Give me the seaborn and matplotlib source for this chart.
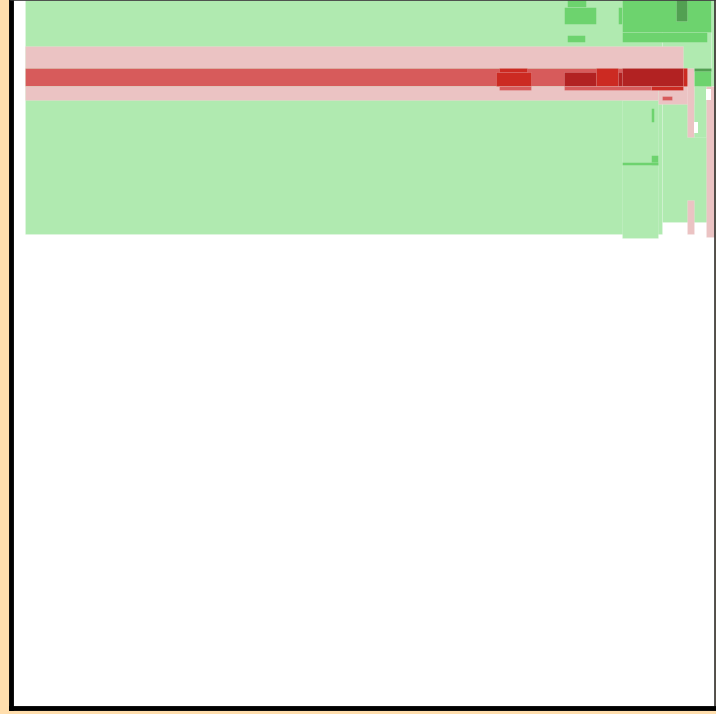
import matplotlib
matplotlib.use("Agg")
import matplotlib.pyplot as plt
import seaborn as sns
import pandas as pd

sns.set_style("white")

# Rectangular blocks: horizontal start/end and vertical low/high values, and shade category
x_start = [25, 662, 622, 711, 25, 25, 25, 658, 687, 687, 694, 706, 706, 694, 694, 694,
           564, 567, 567, 622, 622, 618, 676,
           496, 499, 499, 564, 596, 622, 618, 683, 564, 651, 662,
           651, 651, 622]
x_end = [662, 711, 658, 716, 683, 687, 658, 698, 694, 694, 706, 716, 711, 698, 711, 711,
         596, 586, 585, 711, 707, 622, 687,
         531, 527, 531, 596, 618, 683, 622, 687, 651, 683, 672,
         654, 658, 658]
y_low = [0, 0, 100, 0, 46, 68, 86, 86, 68, 200, 86, 86, 89, 122, 68, 68,
         7, 0, 35, 0, 32, 7, 0,
         72, 68, 86, 72, 68, 68, 72, 68, 86, 86, 96,
         108, 155, 162]
y_high = [234, 222, 238, 86, 68, 86, 100, 104, 137, 234, 137, 237, 100, 133, 86, 71,
          24, 7, 42, 32, 42, 24, 21,
          86, 72, 90, 86, 86, 86, 86, 86, 90, 90, 100,
          122, 165, 165]
shade = ["lg", "lg", "lg", "lg", "pk", "rd", "pk", "pk", "pk", "pk", "lg", "pk", "wh", "wh", "mg", "dg",
         "mg", "mg", "mg", "mg", "mg", "mg", "dg",
         "br", "br", "rd", "dr", "br", "dr", "dr", "br", "rd", "br", "rd",
         "mg", "mg", "mg"]

palette = {"lg": "#b0eab0", "mg": "#6dd36e", "dg": "#52a052", "pk": "#ebc3c3",
           "rd": "#d75b5b", "br": "#cc2a22", "dr": "#b22222", "wh": "#ffffff"}

df = pd.DataFrame({"x0": x_start, "x1": x_end, "y0": y_low, "y1": y_high, "shade": shade})

fig = plt.figure(figsize=(7.16, 7.14), dpi=100, facecolor="#ffdead")
ax = fig.add_axes([11 / 716, 6.5 / 714, 704 / 716, 707.5 / 714])
ax.set_facecolor("white")

for _, r in df.iterrows():
    edge = (1, 1, 1, 0.18) if r["shade"] != "wh" else "none"
    ax.bar(r["x0"], r["y1"] - r["y0"], width=r["x1"] - r["x0"], bottom=r["y0"],
           align="edge", color=palette[r["shade"]], edgecolor=edge, linewidth=0.6)

ax.set_xlim(11, 715)
ax.set_ylim(707.5, 0)
ax.set_xticks([])
ax.set_yticks([])
for side in ["left", "bottom"]:
    ax.spines[side].set_color("black")
    ax.spines[side].set_linewidth(3.5)
for side in ["top", "right"]:
    ax.spines[side].set_color("#333333")
    ax.spines[side].set_linewidth(1.2)

fig.savefig("out.png", dpi=100, facecolor=fig.get_facecolor())
